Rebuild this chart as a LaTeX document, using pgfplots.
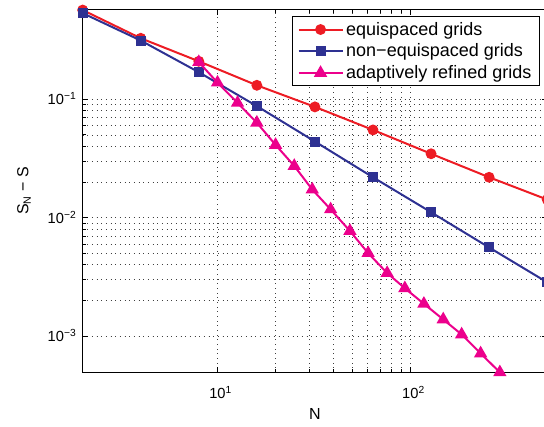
\documentclass[border=0pt]{standalone}
\usepackage{fontspec}
\setmainfont{Liberation Sans}
\usepackage{pgfplots}
\pgfplotsset{compat=1.18}
\definecolor{cred}{RGB}{237,28,36}
\definecolor{cblue}{RGB}{46,49,146}
\definecolor{cmag}{RGB}{236,0,140}
\begin{document}
\begin{tikzpicture}
\begin{loglogaxis}[
  scale only axis,
  width=348.4pt, height=272.5pt,
  xmin=2, xmax=512,
  ymin=4.9e-4, ymax=0.574,
  xtick={10,100}, xticklabels={10\rlap{\textsuperscript{1}},10\rlap{\textsuperscript{2}}},
  ytick={1e-3,1e-2,1e-1}, yticklabels={10\textsuperscript{−3},10\textsuperscript{−2},10\textsuperscript{−1}},
  grid=both,
  grid style={black!75, line width=0.4pt, dash pattern=on 0.5pt off 3pt},
  tick align=inside,
  major tick length=4pt, minor tick length=2.5pt,
  tick style={black, line width=0.5pt},
  axis line style={black, line width=0.8pt},
  clip mode=individual,
  xticklabel style={font=\fontsize{11}{13}\selectfont, anchor=base, inner sep=0pt, yshift=-19.7pt},
  yticklabel style={font=\fontsize{11}{13}\selectfont, anchor=base east, inner sep=0pt, xshift=-4.5pt, yshift=-4.3pt},
  xlabel={N},
  ylabel={S\textsubscript{N} − S},
  xlabel style={font=\fontsize{12}{14}\selectfont, at={(rel axis cs:0.5,0)}, anchor=center, yshift=-31pt},
  ylabel style={font=\fontsize{12}{14}\selectfont, at={(rel axis cs:0,0.5)}, anchor=center, yshift=44pt},
  legend style={at={(rel axis cs:1,1)}, anchor=north east, xshift=-5.6pt, yshift=-5.2pt,
    font=\fontsize{13.5}{15}\selectfont, draw=black, line width=0.6pt, fill=white,
    inner xsep=4pt, inner ysep=2pt, row sep=1pt},
  legend cell align=left,
  legend image code/.code={\draw[mark repeat=2,mark phase=2] plot coordinates {(0pt,0pt)(16.5pt,0pt)(33pt,0pt)};},
]
\addplot[cred, line width=1.5pt, mark=*, mark size=3.3pt, mark options={solid}] coordinates {
(2,0.566) (4,0.327) (8,0.209) (16,0.131) (32,0.0861) (64,0.055) (128,0.0346) (256,0.0219) (512,0.0142)};
\addlegendentry{equispaced grids}
\addplot[cblue, line width=1.5pt, mark=square*, mark size=3.0pt, mark options={solid}] coordinates {
(2,0.533) (4,0.313) (8,0.169) (16,0.0874) (32,0.0439) (64,0.0219) (128,0.0111) (256,0.00559) (512,0.00284)};
\addlegendentry{non\mbox{−}equispaced grids}
\addplot[cmag, line width=1.5pt, mark=triangle*, mark size=4.3pt, mark options={solid}] coordinates {
(8,0.2056) (10,0.138) (12.7,0.0931) (16,0.0633) (20,0.0411) (25,0.0273) (31,0.01726) (38.6,0.01173)
(48.6,0.00771) (60.4,0.00501) (75.8,0.00340) (93.6,0.00253) (117.5,0.00187) (148,0.00138)
(184.4,0.00103) (231.3,0.000712) (291,0.000493)};
\addlegendentry{adaptively refined grids}
\coordinate (bl) at (rel axis cs:0,0);
\coordinate (tl) at (rel axis cs:0,1);
\end{loglogaxis}
\pgfresetboundingbox
\path[use as bounding box] ([shift={(-62pt,-40.75pt)}]bl) rectangle ([shift={(346pt,7pt)}]tl);
\end{tikzpicture}
\end{document}
